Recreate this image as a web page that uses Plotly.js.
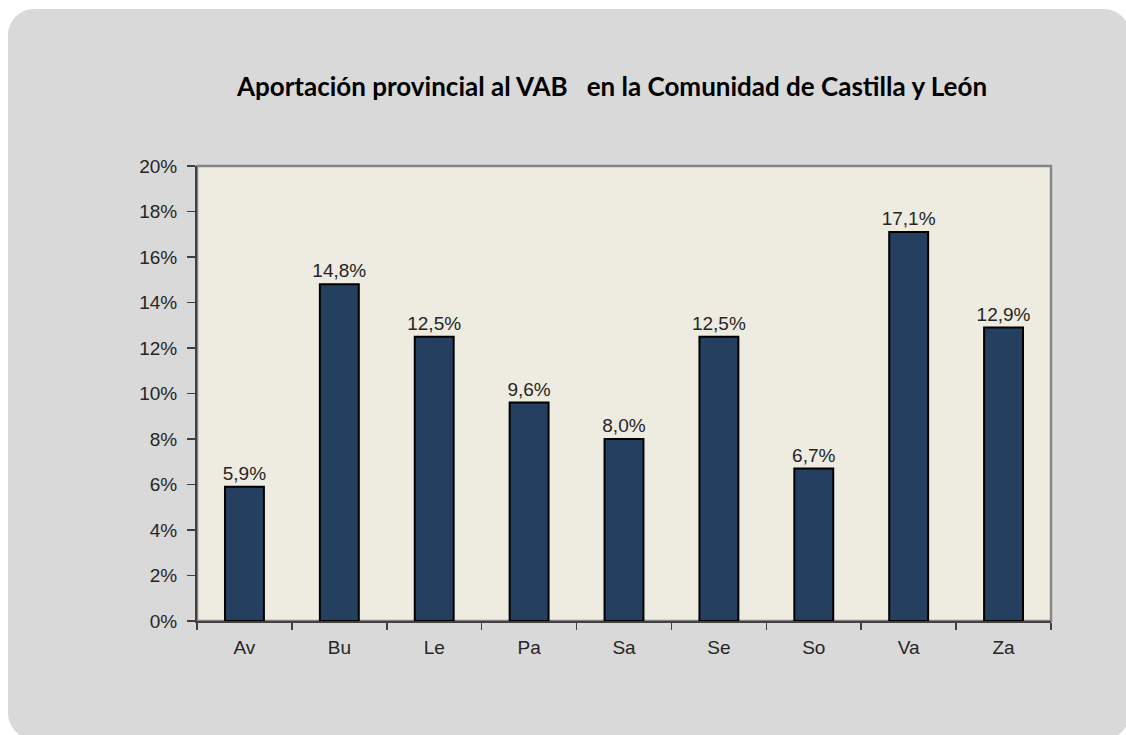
<!DOCTYPE html>
<html>
<head>
<meta charset="utf-8">
<script src="https://cdn.plot.ly/plotly-3.0.1.min.js"></script>
<style>
  html, body { margin: 0; padding: 0; background: #ffffff; overflow: hidden; }
  #bg { position: absolute; left: 8px; top: 9px; width: 1122px; height: 730px; background: #d9d9d9; border-radius: 26px; }
  #chart { position: absolute; left: 0; top: 0; width: 1126px; height: 735px; }
</style>
</head>
<body>
<div id="bg"></div>
<div id="chart"></div>
<script>
const categories = ["Av", "Bu", "Le", "Pa", "Sa", "Se", "So", "Va", "Za"];
const values = [5.9, 14.8, 12.5, 9.6, 8.0, 12.5, 6.7, 17.1, 12.9];
const yTicks = [0, 2, 4, 6, 8, 10, 12, 14, 16, 18, 20];
const titleText = "Aportación provincial al VAB &nbsp; en la Comunidad de Castilla y León";

const trace = {
  type: "bar",
  x: categories,
  y: values,
  marker: { color: "#243f60", line: { color: "#000000", width: 2 } },
  texttemplate: "%{y:.1f}%",
  textposition: "outside",
  constraintext: "none",
  cliponaxis: false,
  textfont: { family: "Liberation Sans, Arial, sans-serif", size: 19, color: "#262626" },
  hoverinfo: "none"
};

const layout = {
  width: 1126,
  height: 735,
  paper_bgcolor: "rgba(0,0,0,0)",
  plot_bgcolor: "#eeebe0",
  separators: ",.",
  margin: { l: 197, r: 75, t: 166, b: 114, pad: 0 },
  bargap: 0.59,
  showlegend: false,
  font: { family: "Liberation Sans, Arial, sans-serif", size: 19, color: "#262626" },
  title: {
    text: titleText,
    xref: "container", yref: "container",
    x: 612 / 1126, xanchor: "center",
    y: 1 - 87 / 735, yanchor: "middle",
    font: { family: "Lato, Open Sans, sans-serif", size: 26, color: "#000000", weight: 700 }
  },
  xaxis: {
    type: "category",
    showline: true, linecolor: "#404040", linewidth: 2,
    ticks: "outside", tickson: "boundaries", ticklen: 7, tickwidth: 1.5, tickcolor: "#404040",
    ticklabelstandoff: 8,
    showgrid: false, zeroline: false,
    tickfont: { size: 19, color: "#262626" }
  },
  yaxis: {
    range: [0, 20],
    tickvals: yTicks,
    ticktext: yTicks.map(v => v + "%"),
    showline: true, linecolor: "#404040", linewidth: 2,
    ticks: "outside", ticklen: 8, tickwidth: 1.5, tickcolor: "#404040",
    ticklabelstandoff: 6,
    showgrid: false, zeroline: false,
    tickfont: { size: 19, color: "#262626" }
  },
  shapes: [
    { type: "rect", xref: "paper", yref: "paper", x0: 0, x1: 1, y0: 0, y1: 1,
      line: { color: "#868686", width: 2.5 }, layer: "below" }
  ]
};

Plotly.newPlot("chart", [trace], layout, { staticPlot: true, displayModeBar: false });
</script>
</body>
</html>
